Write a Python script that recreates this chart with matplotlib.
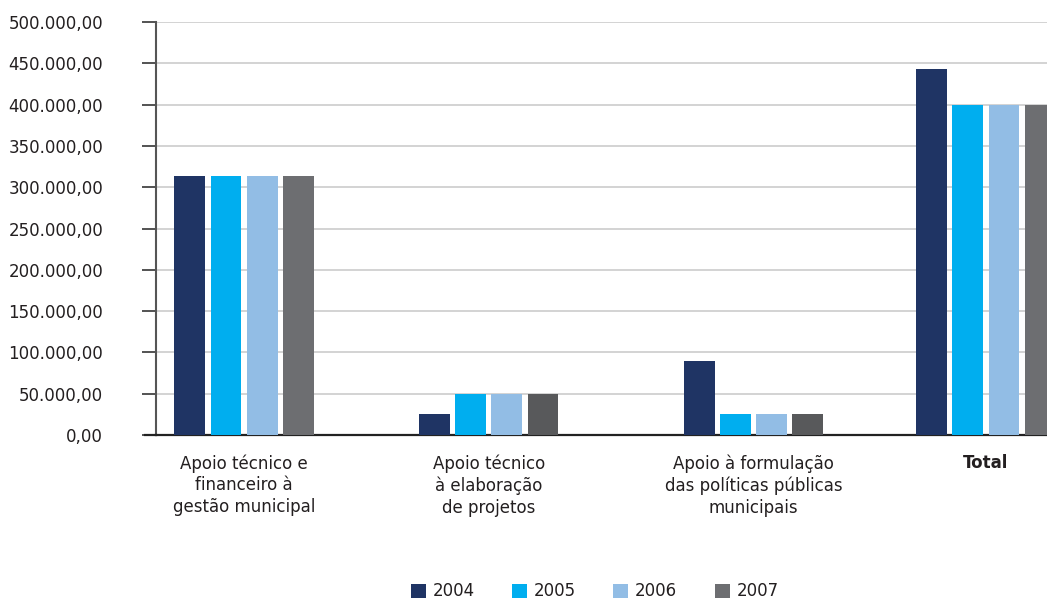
import matplotlib
matplotlib.use('Agg')
import matplotlib.pyplot as plt
from matplotlib.ticker import FuncFormatter
import numpy as np

plt.rcParams['font.family'] = ['DejaVu Sans']

# data
categories = [
    'Apoio técnico e\nfinanceiro à\ngestão municipal',
    'Apoio técnico\nà elaboração\nde projetos',
    'Apoio à formulação\ndas políticas públicas\nmunicipais',
    'Total',
]
years = ['2004', '2005', '2006', '2007']
v2004 = [314000, 25000, 90000, 443000]
v2005 = [314000, 50000, 25000, 400000]
v2006 = [314000, 50000, 25000, 400000]
v2007 = [314000, 50000, 25000, 400000]
series = [v2004, v2005, v2006, v2007]
y_ticks = list(range(0, 500001, 50000))

colors = ['#1F3464', '#00AEEF', '#92BDE5', '#6D6E71']
dark_gray = '#58595B'

fig = plt.figure(figsize=(10.47, 6.01), dpi=100)
ax = fig.add_axes([0.149, 0.2762, 0.851, 0.6872])

# group centres are not evenly spaced in the original layout
x = np.array([0, 0.99, 2.06, 3.0])
step = 0.146
width = 0.125
for i, vals in enumerate(series):
    cols = [colors[i]] * len(vals)
    if i == 3:
        cols = [colors[3], dark_gray, dark_gray, colors[3]]
    ax.bar(x + (i - 1.5) * step, vals, width, color=cols, label=years[i], zorder=3)

ax.set_xlim(-0.356, 3.247)
ax.set_ylim(0, 500000)
ax.set_yticks(y_ticks)
ax.yaxis.set_major_formatter(FuncFormatter(
    lambda v, p: f'{v:,.2f}'.replace(',', 'X').replace('.', ',').replace('X', '.')))
ax.grid(axis='y', color='#D3D3D3', linewidth=1.4, zorder=0)
ax.tick_params(axis='y', length=10, width=1.3, color='#444444', pad=28,
               labelsize=12, labelcolor='#231F20')

ax.set_xticks(x)
ax.set_xticklabels(categories, fontsize=12, color='#231F20', linespacing=1.25)
ax.get_xticklabels()[3].set_fontweight('bold')
ax.tick_params(axis='x', length=0, pad=14)

for s in ['top', 'right']:
    ax.spines[s].set_visible(False)
ax.spines['left'].set_color('#555555')
ax.spines['left'].set_linewidth(1.5)
ax.spines['bottom'].set_color('#222222')
ax.spines['bottom'].set_linewidth(1.6)

# baseline runs a little to the left of the axis
ax.plot([-0.356 - 11 / 891 * 3.603, -0.356], [0, 0],
        color='#222222', linewidth=1.6, clip_on=False, zorder=4)

fig.legend(loc='center', bbox_to_anchor=(0.568, 0.016), ncol=4, frameon=False,
           fontsize=12, handlelength=0.9, handleheight=0.9, handletextpad=0.4,
           columnspacing=2.25, labelcolor='#231F20')

fig.savefig('out.png', dpi=100)
